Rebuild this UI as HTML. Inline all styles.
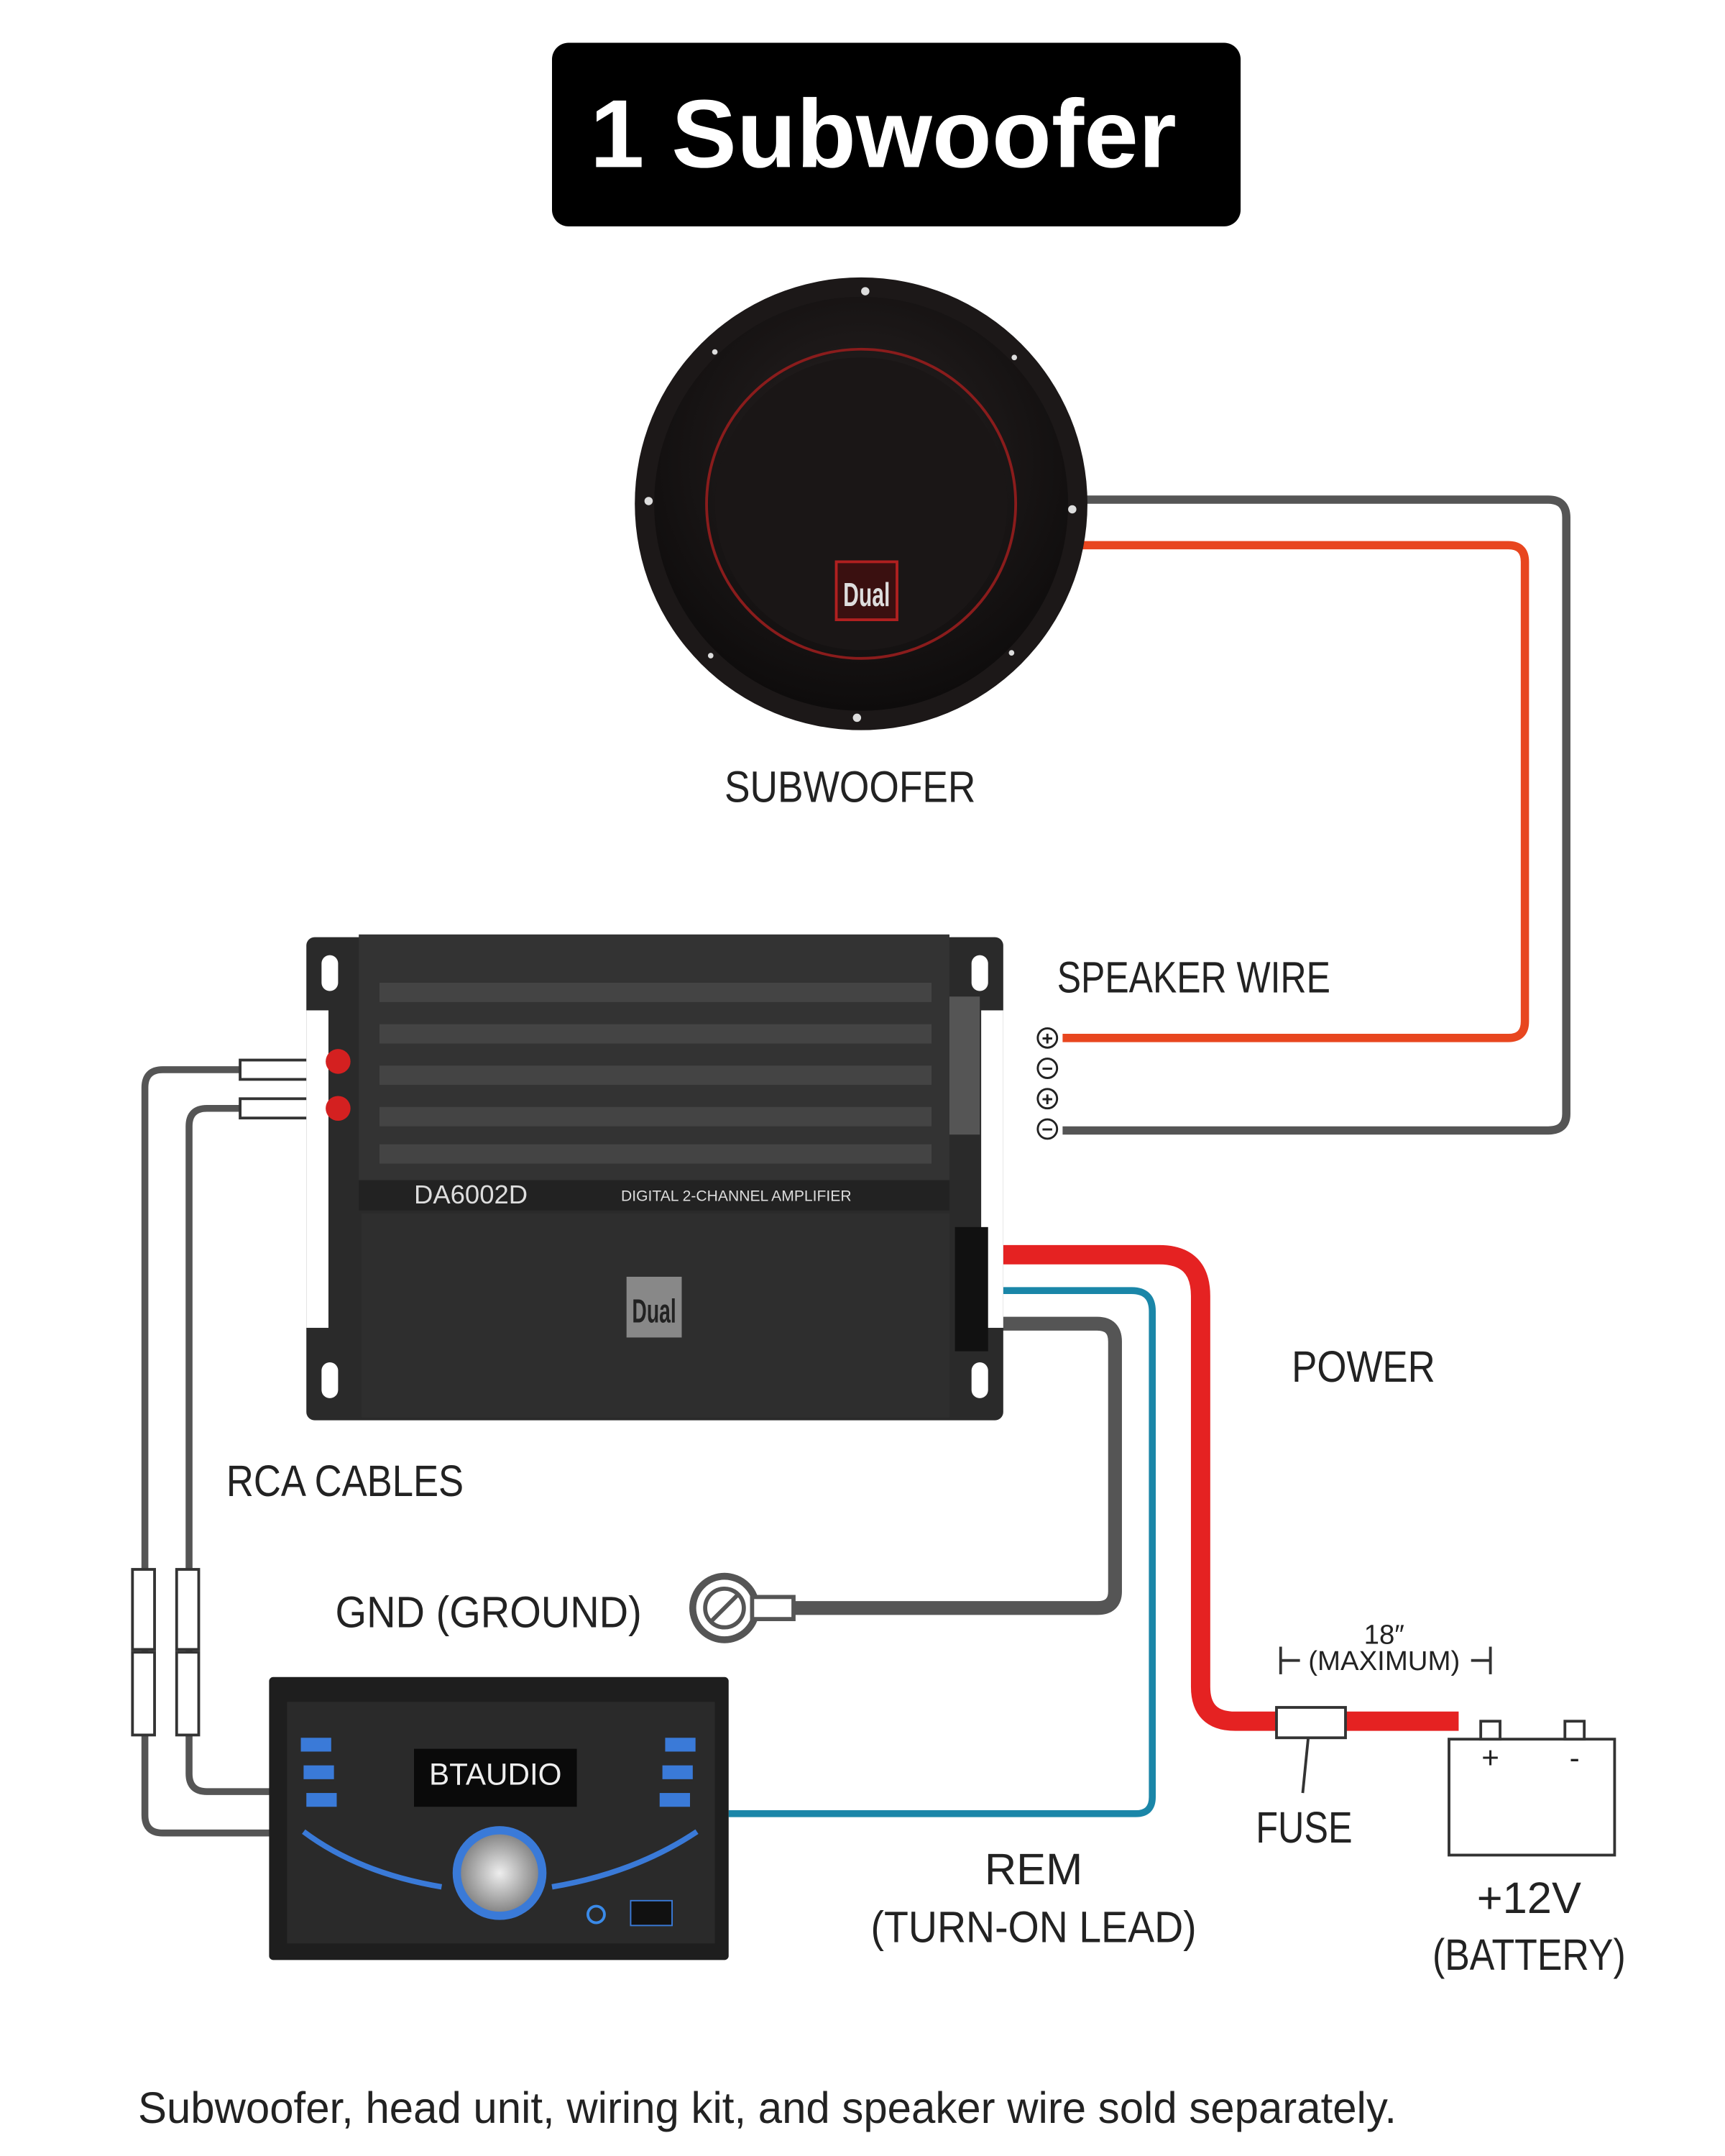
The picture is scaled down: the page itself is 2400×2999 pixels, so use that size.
<!DOCTYPE html>
<html><head><meta charset="utf-8"><style>html,body{margin:0;padding:0;background:#fff}svg{display:block}text{font-family:"Liberation Sans",sans-serif}</style></head><body>
<svg width="2400" height="2999" viewBox="0 3 1250 1562" preserveAspectRatio="none" xmlns="http://www.w3.org/2000/svg">
<defs>
<radialGradient id="sub" cx="50%" cy="40%" r="60%"><stop offset="0" stop-color="#2a2424"/><stop offset="1" stop-color="#0e0c0c"/></radialGradient>
<radialGradient id="knob" cx="50%" cy="50%" r="50%"><stop offset="0" stop-color="#eee"/><stop offset="1" stop-color="#888"/></radialGradient>
</defs>
<rect x="400" y="34" width="499" height="133" rx="12" fill="#000"/>
<text x="640" y="124" font-size="70" font-weight="bold" fill="#fff" text-anchor="middle" textLength="425" lengthAdjust="spacingAndGlyphs">1 Subwoofer</text>

<path d="M780 365 H1122 Q1135 365 1135 378 V810 Q1135 822 1122 822 H770" fill="none" stroke="#555" stroke-width="6"/>
<path d="M780 398 H1093 Q1105 398 1105 410 V743 Q1105 755 1093 755 H770" fill="none" stroke="#e8461f" stroke-width="6"/>

<circle cx="624" cy="368" r="164" fill="#1c1818"/>
<circle cx="624" cy="368" r="150" fill="url(#sub)"/>
<circle cx="624" cy="368" r="112" fill="none" stroke="#8a1c1c" stroke-width="2"/>
<circle cx="624" cy="368" r="106" fill="#1a1616"/>
<g fill="#ddd"><circle cx="627" cy="214" r="3"/><circle cx="777" cy="372" r="3"/><circle cx="621" cy="523" r="3"/><circle cx="470" cy="366" r="3"/><circle cx="735" cy="262" r="2"/><circle cx="518" cy="258" r="2"/><circle cx="515" cy="478" r="2"/><circle cx="733" cy="476" r="2"/></g>
<rect x="606" y="410" width="44" height="42" fill="#3a1010" stroke="#b02020" stroke-width="2"/>
<text x="628" y="442" font-size="24" fill="#ddd" text-anchor="middle" font-weight="bold" textLength="34" lengthAdjust="spacingAndGlyphs">Dual</text>
<text x="616" y="584" font-size="32" fill="#222" text-anchor="middle" textLength="182" lengthAdjust="spacingAndGlyphs">SUBWOOFER</text>

<text x="766" y="722" font-size="32" fill="#222" textLength="198" lengthAdjust="spacingAndGlyphs">SPEAKER WIRE</text>
<g font-size="14" fill="#222" text-anchor="middle" font-weight="bold">
<circle cx="759" cy="755" r="7" fill="#fff" stroke="#222" stroke-width="1.5"/><text x="759" y="760">+</text>
<circle cx="759" cy="777" r="7" fill="#fff" stroke="#222" stroke-width="1.5"/><text x="759" y="782">−</text>
<circle cx="759" cy="799" r="7" fill="#fff" stroke="#222" stroke-width="1.5"/><text x="759" y="804">+</text>
<circle cx="759" cy="821" r="7" fill="#fff" stroke="#222" stroke-width="1.5"/><text x="759" y="826">−</text>
</g>

<path d="M175 778 H118 Q105 778 105 791 V1318 Q105 1331 118 1331 H196" fill="none" stroke="#555" stroke-width="5"/>
<path d="M175 806 H150 Q137 806 137 819 V1288 Q137 1301 150 1301 H196" fill="none" stroke="#555" stroke-width="5"/>
<g fill="#fff" stroke="#333" stroke-width="2">
<rect x="174" y="771" width="54" height="14"/><rect x="174" y="799" width="54" height="14"/>
<rect x="96" y="1140" width="16" height="58"/><rect x="128" y="1140" width="16" height="58"/>
<rect x="96" y="1200" width="16" height="60"/><rect x="128" y="1200" width="16" height="60"/>
</g>

<path d="M718 912 H840 Q870 912 870 942 V1225 Q870 1250 895 1250 H1057" fill="none" stroke="#e52222" stroke-width="14"/>
<path d="M718 938 H820 Q835 938 835 953 V1305 Q835 1317 823 1317 H528" fill="none" stroke="#1a86a8" stroke-width="5"/>
<path d="M718 962 H795 Q808 962 808 975 V1156 Q808 1168 795 1168 H570" fill="none" stroke="#555" stroke-width="10"/>
<circle cx="525" cy="1168" r="23" fill="#fff" stroke="#555" stroke-width="5"/>
<circle cx="525" cy="1168" r="14" fill="#fff" stroke="#555" stroke-width="3"/>
<line x1="515" y1="1178" x2="535" y2="1158" stroke="#555" stroke-width="3"/>
<rect x="545" y="1160" width="30" height="16" fill="#fff" stroke="#555" stroke-width="3"/>

<rect x="222" y="682" width="505" height="350" rx="6" fill="#2a2a2a"/>
<rect x="222" y="735" width="16" height="230" fill="#fff"/><rect x="711" y="735" width="16" height="230" fill="#fff"/>
<rect x="233" y="695" width="12" height="26" rx="6" fill="#fff"/><rect x="233" y="990" width="12" height="26" rx="6" fill="#fff"/>
<rect x="704" y="695" width="12" height="26" rx="6" fill="#fff"/><rect x="704" y="990" width="12" height="26" rx="6" fill="#fff"/>
<circle cx="245" cy="772" r="9" fill="#d42020"/><circle cx="245" cy="806" r="9" fill="#d42020"/>
<rect x="260" y="680" width="428" height="180" fill="#333"/>
<g fill="#444"><rect x="275" y="715" width="400" height="14"/><rect x="275" y="745" width="400" height="14"/><rect x="275" y="775" width="400" height="14"/><rect x="275" y="805" width="400" height="14"/><rect x="275" y="832" width="400" height="14"/></g>
<rect x="260" y="858" width="428" height="22" fill="#222"/>
<text x="300" y="875" font-size="19" fill="#ddd">DA6002D</text>
<text x="450" y="873" font-size="11" fill="#ddd">DIGITAL 2-CHANNEL AMPLIFIER</text>
<rect x="262" y="882" width="426" height="148" fill="#2e2e2e"/>
<rect x="454" y="928" width="40" height="44" fill="#888"/>
<text x="474" y="961" font-size="24" fill="#222" text-anchor="middle" font-weight="bold" textLength="32" lengthAdjust="spacingAndGlyphs">Dual</text>
<rect x="688" y="725" width="22" height="100" fill="#555"/>
<rect x="692" y="892" width="24" height="90" fill="#111"/>

<rect x="925" y="1240" width="50" height="22" fill="#fff" stroke="#333" stroke-width="2"/>
<line x1="948" y1="1262" x2="944" y2="1302" stroke="#333" stroke-width="2"/>
<g stroke="#333" stroke-width="2"><line x1="928" y1="1196" x2="928" y2="1216"/><line x1="928" y1="1206" x2="942" y2="1206"/><line x1="1080" y1="1196" x2="1080" y2="1216"/><line x1="1066" y1="1206" x2="1080" y2="1206"/></g>
<text x="1003" y="1194" font-size="20" fill="#222" text-anchor="middle">18″</text>
<text x="1003" y="1213" font-size="20" fill="#222" text-anchor="middle">(MAXIMUM)</text>
<rect x="1050" y="1263" width="120" height="84" fill="#fff" stroke="#333" stroke-width="2"/>
<rect x="1073" y="1250" width="14" height="13" fill="#fff" stroke="#333" stroke-width="2"/>
<rect x="1134" y="1250" width="14" height="13" fill="#fff" stroke="#333" stroke-width="2"/>
<text x="1080" y="1284" font-size="22" fill="#222" text-anchor="middle">+</text>
<text x="1141" y="1284" font-size="22" fill="#222" text-anchor="middle">-</text>

<rect x="195" y="1218" width="333" height="205" rx="3" fill="#1e1e1e"/>
<rect x="208" y="1236" width="310" height="175" fill="#2a2a2a"/>
<rect x="300" y="1270" width="118" height="42" fill="#0a0a0a"/>
<text x="359" y="1296" font-size="22" fill="#eee" text-anchor="middle" font-family="Liberation Mono">BTAUDIO</text>
<g fill="#3a7ad8"><rect x="218" y="1262" width="22" height="10"/><rect x="220" y="1282" width="22" height="10"/><rect x="222" y="1302" width="22" height="10"/><rect x="482" y="1262" width="22" height="10"/><rect x="480" y="1282" width="22" height="10"/><rect x="478" y="1302" width="22" height="10"/></g>
<path d="M220 1330 Q260 1360 320 1370 M400 1370 Q460 1360 505 1330" stroke="#3a7ad8" stroke-width="4" fill="none"/>
<circle cx="362" cy="1360" r="34" fill="#3a7ad8"/>
<circle cx="362" cy="1360" r="28" fill="url(#knob)"/>
<circle cx="432" cy="1390" r="6" fill="none" stroke="#3a8ae8" stroke-width="2"/>
<rect x="457" y="1380" width="30" height="18" fill="#111" stroke="#3a7ad8"/>

<g font-size="32" fill="#222">
<text x="936" y="1004" textLength="104" lengthAdjust="spacingAndGlyphs">POWER</text>
<text x="164" y="1087" textLength="172" lengthAdjust="spacingAndGlyphs">RCA CABLES</text>
<text x="243" y="1182" textLength="222" lengthAdjust="spacingAndGlyphs">GND (GROUND)</text>
<text x="910" y="1338" textLength="70" lengthAdjust="spacingAndGlyphs">FUSE</text>
<text x="749" y="1368" text-anchor="middle">REM</text>
<text x="631" y="1410" textLength="236" lengthAdjust="spacingAndGlyphs">(TURN-ON LEAD)</text>
<text x="1108" y="1389" text-anchor="middle">+12V</text>
<text x="1038" y="1430" textLength="140" lengthAdjust="spacingAndGlyphs">(BATTERY)</text>
<text x="100" y="1541" textLength="912" lengthAdjust="spacingAndGlyphs">Subwoofer, head unit, wiring kit, and speaker wire sold separately.</text>
</g>
</svg>
</body></html>
